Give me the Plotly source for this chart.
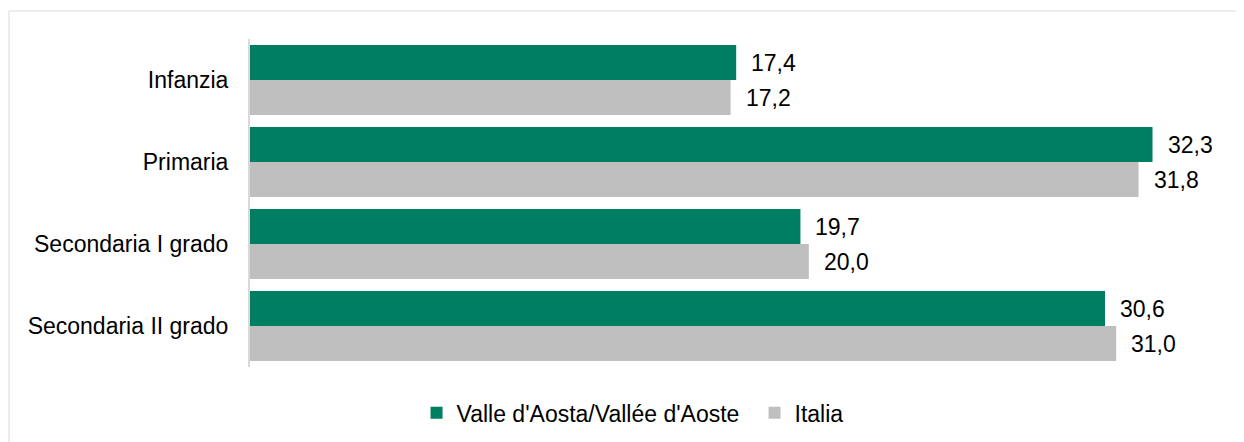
import plotly.graph_objects as go

categories = ["Infanzia", "Primaria", "Secondaria I grado", "Secondaria II grado"]
valle_values = [17.4, 32.3, 19.7, 30.6]
italia_values = [17.2, 31.8, 20.0, 31.0]
series_names = ["Valle d'Aosta/Vallée d'Aoste", "Italia"]
series_colors = ["#007E62", "#BFBFBF"]

FONT = "Liberation Sans, Arial, sans-serif"
FS = 23

def fmt(v):
    return f"{v:.1f}".replace(".", ",")

fig = go.Figure()
for name, vals, col in zip(series_names, [valle_values, italia_values], series_colors):
    fig.add_trace(go.Bar(
        y=categories, x=vals, orientation="h", name=name,
        marker=dict(color=col, line=dict(width=0)),
        hoverinfo="x+y",
    ))

annotations = []
for vals, shift in [(valle_values, 17.5), (italia_values, -17.5)]:
    for c, v in zip(categories, vals):
        annotations.append(dict(
            x=v, y=c, xref="x", yref="y", text=fmt(v), showarrow=False,
            xanchor="left", yanchor="middle", xshift=13, yshift=shift,
            font=dict(family=FONT, size=FS, color="#000000"),
        ))

# page has an 8px body margin, so the figure is 8px smaller and offset
fig.update_layout(
    width=1236, height=434,
    margin=dict(l=242, r=44, t=31, b=75),
    paper_bgcolor="white", plot_bgcolor="white",
    barmode="group", bargap=0.146, bargroupgap=0,
    font=dict(family=FONT, size=FS, color="#000000"),
    xaxis=dict(range=[0, 34.0], visible=False, showgrid=False, zeroline=False),
    yaxis=dict(
        autorange="reversed", showgrid=False, zeroline=False,
        showline=True, linecolor="#D9D9D9", linewidth=2,
        ticks="", ticklabelstandoff=15,
        tickfont=dict(family=FONT, size=FS, color="#000000"),
    ),
    legend=dict(
        orientation="h", xref="container", yref="container",
        x=0.604, xanchor="center", y=0.067, yanchor="middle",
        font=dict(family=FONT, size=FS, color="#000000"),
        itemclick=False, itemwidth=30, entrywidth=293,
    ),
    annotations=annotations,
    shapes=[dict(
        type="rect", xref="paper", yref="paper",
        x0=(1 - 242) / 950, x1=1.2, y0=-0.4, y1=(328 + 31 - 3) / 328,
        line=dict(color="#D9D9D9", width=1), fillcolor="rgba(0,0,0,0)",
        layer="below",
    )],
)

fig.write_html("out.html")
